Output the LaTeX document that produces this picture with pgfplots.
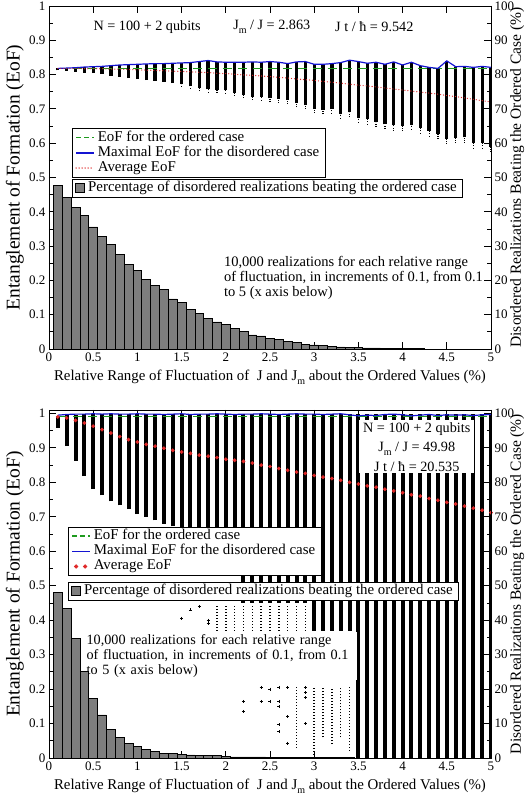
\documentclass[border=0pt]{standalone}
\usepackage{fontspec}
\setmainfont{Liberation Serif}
\usepackage{pgfplots}
\pgfplotsset{compat=1.18}
\definecolor{ordgreen}{HTML}{1E9A1E}
\definecolor{maxblue}{HTML}{1414D2}
\definecolor{avgred}{HTML}{E02828}
\definecolor{barfill}{HTML}{7E7E7E}
\newcommand{\sub}[1]{\raisebox{-0.6ex}{\fontsize{10}{10}\selectfont #1}}
\newcommand{\txt}{\fontsize{14.9}{15}\selectfont}

\pgfplotsset{
  panel/.style={scale only axis, width=442pt, anchor=south west,
    xmin=0, xmax=5, ymin=0,
    tick align=inside, major tick length=7pt, minor tick length=4pt,
    minor y tick num=1,
    every tick/.append style={black, line width=0.8pt},
    axis line style={line width=0.9pt},
    tick label style={font=\fontsize{13}{13}\selectfont},
    /pgf/number format/assume math mode=true},
  legbox/.style={legend cell align=left,
    legend style={draw=black, line width=0.8pt, fill=white, font=\txt,
      anchor=north west, inner xsep=3pt, inner ysep=1.5pt,
      nodes={text height=10.5pt, text depth=3.5pt, inner ysep=0.6pt, inner xsep=3pt}}},
  eof/.style={panel, legbox,
    xtick={0,0.5,1,1.5,2,2.5,3,3.5,4,4.5,5},
    ytick={0,0.1,0.2,0.3,0.4,0.5,0.6,0.7,0.8,0.9,1},
    xtick pos=both, xticklabel pos=lower, ytick pos=left,
    xlabel={Relative Range of Fluctuation of \ J and J\sub{m} about the Ordered Values (\%)},
    xlabel style={font=\txt, at={(axis description cs:0.5,0)}, anchor=center, yshift=-28pt},
    ylabel={Entanglement of Formation (EoF)},
    ylabel style={font=\fontsize{19.5}{20}\selectfont, at={(axis description cs:-0.077,0.5)}, anchor=center}},
  pct/.style={panel, legbox, hide x axis,
    ytick={0,10,20,30,40,50,60,70,80,90,100},
    ytick pos=right, yticklabel pos=right,
    ylabel={Disordered Realizations Beating the Ordered Case (\%)},
    ylabel style={font=\fontsize{15.5}{16}\selectfont, at={(axis description cs:1.059,0.5)}, anchor=center}},
  greenleg/.style={legend image code/.code={\draw[ordgreen, line width=1.4pt, dash pattern=on 5pt off 3pt] (0pt,0pt) -- (18pt,0pt);}},
  blueleg/.style={legend image code/.code={\draw[maxblue, line width=1.4pt] (0pt,0pt) -- (18pt,0pt);}},
  barleg/.style={legend image code/.code={\draw[fill=barfill, draw=black, line width=0.8pt] (4pt,-4.5pt) rectangle (13pt,4.5pt);}}
}

\begin{document}
\begin{tikzpicture}
\path[use as bounding box] (0pt,0pt) rectangle (531pt,798pt);

% ================= top panel =================
\begin{axis}[eof, at={(49pt,449pt)}, height=343pt, ymax=1,
  legend style={at={(rel axis cs:0.052,0.644)}}]
% realizations: each streak from lowest to highest EoF
\addplot[black, line width=3.3pt, unbounded coords=jump, forget plot] coordinates {
(0.1,0.812)(0.1,0.818)(0.1,nan) (0.2,0.811)(0.2,0.819)(0.2,nan)
(0.3,0.809)(0.3,0.820)(0.3,nan) (0.4,0.806)(0.4,0.822)(0.4,nan)
(0.5,0.804)(0.5,0.823)(0.5,nan) (0.6,0.801)(0.6,0.824)(0.6,nan)
(0.7,0.797)(0.7,0.826)(0.7,nan) (0.8,0.794)(0.8,0.828)(0.8,nan)
(0.9,0.790)(0.9,0.829)(0.9,nan) (1.0,0.787)(1.0,0.830)(1.0,nan)
(1.1,0.784)(1.1,0.831)(1.1,nan) (1.2,0.782)(1.2,0.832)(1.2,nan)
(1.3,0.779)(1.3,0.832)(1.3,nan) (1.4,0.775)(1.4,0.833)(1.4,nan)
(1.5,0.772)(1.5,0.834)(1.5,nan) (1.6,0.766)(1.6,0.835)(1.6,nan)
(1.7,0.760)(1.7,0.838)(1.7,nan) (1.8,0.757)(1.8,0.841)(1.8,nan)
(1.9,0.756)(1.9,0.837)(1.9,nan) (2.0,0.754)(2.0,0.836)(2.0,nan)
(2.1,0.746)(2.1,0.836)(2.1,nan) (2.2,0.741)(2.2,0.836)(2.2,nan)
(2.3,0.736)(2.3,0.837)(2.3,nan) (2.4,0.735)(2.4,0.836)(2.4,nan)
(2.5,0.731)(2.5,0.838)(2.5,nan) (2.6,0.729)(2.6,0.836)(2.6,nan)
(2.7,0.727)(2.7,0.832)(2.7,nan) (2.8,0.718)(2.8,0.837)(2.8,nan)
(2.9,0.711)(2.9,0.838)(2.9,nan) (3.0,0.700)(3.0,0.830)(3.0,nan)
(3.1,0.697)(3.1,0.830)(3.1,nan) (3.2,0.699)(3.2,0.832)(3.2,nan)
(3.3,0.686)(3.3,0.835)(3.3,nan) (3.4,0.690)(3.4,0.842)(3.4,nan)
(3.5,0.674)(3.5,0.838)(3.5,nan) (3.6,0.670)(3.6,0.833)(3.6,nan)
(3.7,0.662)(3.7,0.836)(3.7,nan) (3.8,0.655)(3.8,0.830)(3.8,nan)
(3.9,0.652)(3.9,0.837)(3.9,nan) (4.0,0.651)(4.0,0.828)(4.0,nan)
(4.1,0.654)(4.1,0.836)(4.1,nan) (4.2,0.645)(4.2,0.826)(4.2,nan)
(4.3,0.636)(4.3,0.821)(4.3,nan) (4.4,0.628)(4.4,0.818)(4.4,nan)
(4.5,0.613)(4.5,0.840)(4.5,nan) (4.6,0.615)(4.6,0.823)(4.6,nan)
(4.7,0.617)(4.7,0.824)(4.7,nan) (4.8,0.600)(4.8,0.821)(4.8,nan)
(4.9,0.602)(4.9,0.824)(4.9,nan) (5.0,0.590)(5.0,0.821)
};
% sparse tails below the streaks
\addplot[black, line width=1.2pt, dash pattern=on 0.8pt off 1.6pt, unbounded coords=jump, forget plot] coordinates {
(1.5,0.765)(1.5,0.772)(1.5,nan) (1.6,0.760)(1.6,0.766)(1.6,nan) (1.7,0.752)(1.7,0.760)(1.7,nan)
(1.8,0.748)(1.8,0.757)(1.8,nan) (1.9,0.748)(1.9,0.756)(1.9,nan) (2.0,0.745)(2.0,0.754)(2.0,nan)
(2.1,0.738)(2.1,0.746)(2.1,nan) (2.2,0.732)(2.2,0.741)(2.2,nan) (2.3,0.726)(2.3,0.736)(2.3,nan)
(2.4,0.725)(2.4,0.735)(2.4,nan) (2.5,0.720)(2.5,0.731)(2.5,nan) (2.6,0.718)(2.6,0.729)(2.6,nan)
(2.7,0.715)(2.7,0.727)(2.7,nan) (2.8,0.705)(2.8,0.718)(2.8,nan) (2.9,0.700)(2.9,0.711)(2.9,nan)
(3.0,0.688)(3.0,0.700)(3.0,nan) (3.1,0.685)(3.1,0.697)(3.1,nan) (3.2,0.686)(3.2,0.699)(3.2,nan)
(3.3,0.672)(3.3,0.686)(3.3,nan) (3.4,0.676)(3.4,0.690)(3.4,nan) (3.5,0.660)(3.5,0.674)(3.5,nan)
(3.6,0.655)(3.6,0.670)(3.6,nan) (3.7,0.648)(3.7,0.662)(3.7,nan) (3.8,0.642)(3.8,0.655)(3.8,nan)
(3.9,0.636)(3.9,0.652)(3.9,nan) (4.0,0.635)(4.0,0.651)(4.0,nan) (4.1,0.640)(4.1,0.654)(4.1,nan)
(4.2,0.628)(4.2,0.645)(4.2,nan) (4.3,0.620)(4.3,0.636)(4.3,nan) (4.4,0.612)(4.4,0.628)(4.4,nan)
(4.5,0.598)(4.5,0.613)(4.5,nan) (4.6,0.600)(4.6,0.615)(4.6,nan) (4.7,0.600)(4.7,0.617)(4.7,nan)
(4.8,0.585)(4.8,0.600)(4.8,nan) (4.9,0.585)(4.9,0.602)(4.9,nan) (5.0,0.575)(5.0,0.590)
};
\addplot[ordgreen, line width=1.2pt, dash pattern=on 9pt off 6pt, greenleg] coordinates {(0.1,0.818) (5.0,0.818)};
\addlegendentry{EoF for the ordered case}
\addplot[maxblue, line width=1.2pt, blueleg] coordinates {
(0.1,0.818)(0.2,0.819)(0.3,0.820)(0.4,0.822)(0.5,0.823)(0.6,0.824)(0.7,0.826)(0.8,0.828)(0.9,0.829)(1.0,0.830)
(1.1,0.831)(1.2,0.832)(1.3,0.832)(1.4,0.833)(1.5,0.834)(1.6,0.835)(1.7,0.838)(1.8,0.841)(1.9,0.837)(2.0,0.836)
(2.1,0.836)(2.2,0.836)(2.3,0.837)(2.4,0.836)(2.5,0.838)(2.6,0.836)(2.7,0.832)(2.8,0.837)(2.9,0.838)(3.0,0.830)
(3.1,0.830)(3.2,0.832)(3.3,0.835)(3.4,0.842)(3.5,0.838)(3.6,0.833)(3.7,0.836)(3.8,0.830)(3.9,0.837)(4.0,0.828)
(4.1,0.836)(4.2,0.826)(4.3,0.821)(4.4,0.818)(4.5,0.840)(4.6,0.823)(4.7,0.824)(4.8,0.821)(4.9,0.824)(5.0,0.821)};
\addlegendentry{Maximal EoF for the disordered case}
\addplot[avgred, line width=1.3pt, line cap=round, dash pattern=on 0pt off 3pt,
  legend image code/.code={\draw[avgred, line width=1.5pt, line cap=round, dash pattern=on 0pt off 3pt] (0pt,0pt) -- (18pt,0pt);}] coordinates {
(0.1,0.818)(0.2,0.818)(0.3,0.818)(0.4,0.817)(0.5,0.817)(0.6,0.817)(0.7,0.816)(0.8,0.816)(0.9,0.815)(1.0,0.814)
(1.1,0.813)(1.2,0.812)(1.3,0.811)(1.4,0.810)(1.5,0.809)(1.6,0.808)(1.7,0.807)(1.8,0.806)(1.9,0.804)(2.0,0.803)
(2.1,0.801)(2.2,0.799)(2.3,0.798)(2.4,0.796)(2.5,0.794)(2.6,0.792)(2.7,0.790)(2.8,0.787)(2.9,0.785)(3.0,0.783)
(3.1,0.780)(3.2,0.778)(3.3,0.775)(3.4,0.772)(3.5,0.769)(3.6,0.767)(3.7,0.764)(3.8,0.761)(3.9,0.758)(4.0,0.755)
(4.1,0.752)(4.2,0.749)(4.3,0.746)(4.4,0.743)(4.5,0.739)(4.6,0.736)(4.7,0.732)(4.8,0.728)(4.9,0.724)(5.0,0.720)};
\addlegendentry{Average EoF}
\node[font=\fontsize{14.2}{15}\selectfont] at (axis cs:1.11,0.939) {N = 100 + 2 qubits};
\node[font=\fontsize{14.2}{15}\selectfont] at (axis cs:2.52,0.939) {J\sub{m} / J = 2.863};
\node[font=\fontsize{14.2}{15}\selectfont] at (axis cs:3.68,0.939) {J t / ħ = 9.542};
\node[font=\fontsize{14.5}{15}\selectfont, anchor=west, align=left] at (axis cs:1.94,0.207)
  {10,000 realizations for each relative range\\of fluctuation, in increments of 0.1, from 0.1\\to 5 (x axis below)};
\end{axis}

\begin{axis}[pct, at={(49pt,449pt)}, height=343pt, ymax=100,
  legend style={at={(rel axis cs:0.052,0.496)}}]
\addplot[ybar, bar width=0.1, fill=barfill, draw=black, line width=0.7pt, barleg] coordinates {
(0.1,47.7)(0.2,44.1)(0.3,41.3)(0.4,38.9)(0.5,35.6)(0.6,32.7)(0.7,30.4)(0.8,27.5)(0.9,24.6)(1.0,22.9)
(1.1,20.4)(1.2,18.5)(1.3,17.3)(1.4,14.6)(1.5,13.5)(1.6,11.6)(1.7,10.4)(1.8,8.9)(1.9,7.9)(2.0,7.2)
(2.1,6.1)(2.2,5.1)(2.3,4.1)(2.4,3.8)(2.5,3.0)(2.6,2.7)(2.7,2.1)(2.8,1.8)(2.9,1.4)(3.0,1.2)
(3.1,1.0)(3.2,0.8)(3.3,0.6)(3.4,0.5)(3.5,0.4)(3.6,0.3)(3.7,0.3)(3.8,0.2)(3.9,0.15)(4.0,0.1)
(4.1,0.1)(4.2,0.1)};
\addlegendentry{Percentage of disordered realizations beating the ordered case}
\end{axis}

% ================= bottom panel =================
\begin{axis}[eof, at={(49pt,40pt)}, height=348pt, ymax=1.01,
  legend style={at={(rel axis cs:0.043,0.665)}}]
\addplot[black, line width=4pt, unbounded coords=jump, forget plot] coordinates {
(0.1,0.959)(0.1,0.993)(0.1,nan) (0.2,0.905)(0.2,0.995)(0.2,nan)
(0.3,0.862)(0.3,0.996)(0.3,nan) (0.4,0.818)(0.4,0.997)(0.4,nan)
(0.5,0.780)(0.5,0.997)(0.5,nan) (0.6,0.762)(0.6,0.997)(0.6,nan)
(0.7,0.745)(0.7,0.997)(0.7,nan) (0.8,0.733)(0.8,0.997)(0.8,nan)
(0.9,0.722)(0.9,0.997)(0.9,nan) (1.0,0.708)(1.0,0.997)(1.0,nan)
(1.1,0.700)(1.1,0.997)(1.1,nan) (1.2,0.690)(1.2,0.997)(1.2,nan)
(1.3,0.680)(1.3,0.997)(1.3,nan) (1.4,0.672)(1.4,0.997)(1.4,nan)
(1.5,0.665)(1.5,0.997)(1.5,nan) (1.6,0.660)(1.6,0.997)(1.6,nan)
(1.7,0.655)(1.7,0.997)(1.7,nan) (1.8,0.650)(1.8,0.997)(1.8,nan)
(1.9,0.640)(1.9,0.997)(1.9,nan) (2.0,0.630)(2.0,0.997)(2.0,nan)
(2.1,0.620)(2.1,0.997)(2.1,nan) (2.2,0.450)(2.2,0.997)(2.2,nan)
(2.3,0.450)(2.3,0.997)(2.3,nan) (2.4,0.450)(2.4,0.997)(2.4,nan)
(2.5,0.450)(2.5,0.997)(2.5,nan) (2.6,0.450)(2.6,0.997)(2.6,nan)
(2.7,0.450)(2.7,0.997)(2.7,nan) (2.8,0.450)(2.8,0.997)(2.8,nan)
(2.9,0.450)(2.9,0.997)(2.9,nan) (3.0,0.370)(3.0,0.997)(3.0,nan)
(3.1,0.370)(3.1,0.997)(3.1,nan) (3.2,0.370)(3.2,0.997)(3.2,nan)
(3.3,0.370)(3.3,0.997)(3.3,nan) (3.4,0.370)(3.4,0.997)(3.4,nan)
(3.5,0)(3.5,0.997)(3.5,nan) (3.6,0)(3.6,0.997)(3.6,nan)
(3.7,0)(3.7,0.997)(3.7,nan) (3.8,0)(3.8,0.997)(3.8,nan)
(3.9,0)(3.9,0.997)(3.9,nan) (4.0,0)(4.0,0.997)(4.0,nan)
(4.1,0)(4.1,0.997)(4.1,nan) (4.2,0)(4.2,0.997)(4.2,nan)
(4.3,0)(4.3,0.997)(4.3,nan) (4.4,0)(4.4,0.997)(4.4,nan)
(4.5,0)(4.5,0.997)(4.5,nan) (4.6,0)(4.6,0.997)(4.6,nan)
(4.7,0)(4.7,0.997)(4.7,nan) (4.8,0)(4.8,0.997)(4.8,nan)
(4.9,0)(4.9,0.997)(4.9,nan) (5.0,0)(5.0,0.997)
};
% sparse parts of the realization columns
\addplot[black, line width=1.5pt, dash pattern=on 1pt off 2pt, unbounded coords=jump, forget plot] coordinates {
(1.9,0.37)(1.9,0.445)(1.9,nan) (2.0,0.37)(2.0,0.445)(2.0,nan) (2.1,0.37)(2.1,0.445)(2.1,nan)
(2.2,0.37)(2.2,0.445)(2.2,nan) (2.3,0.37)(2.3,0.445)(2.3,nan) (2.4,0.37)(2.4,0.445)(2.4,nan)
(2.5,0.37)(2.5,0.445)(2.5,nan) (2.6,0.37)(2.6,0.445)(2.6,nan) (2.7,0.37)(2.7,0.445)(2.7,nan)
(2.8,0.37)(2.8,0.445)(2.8,nan) (2.9,0.37)(2.9,0.445)(2.9,nan)
(2.8,0.03)(2.8,0.205)(2.8,nan) (3.0,0.0)(3.0,0.205)(3.0,nan) (3.1,0.06)(3.1,0.205)(3.1,nan)
(3.2,0.04)(3.2,0.205)(3.2,nan) (3.3,0.06)(3.3,0.205)(3.3,nan) (3.4,0.02)(3.4,0.205)
};
\addplot[only marks, mark=+, mark size=1.5pt, black, line width=0.5pt, forget plot] coordinates {
(1.5,0.406)(1.6,0.430)(1.7,0.440)(1.8,0.400)(1.8,0.390)(2.2,0.164)(2.2,0.135)(2.4,0.205)(2.4,0.164)
(2.5,0.164)(2.5,0.200)(2.6,0.205)(2.6,0.164)(2.6,0.150)(2.6,0.097)(2.6,0.077)(2.7,0.205)(2.7,0.120)
(2.7,0.043)(2.9,0.205)(2.9,0.190)(2.9,0.175)(2.9,0.100)};
\addplot[ordgreen, line width=1.2pt, dash pattern=on 9pt off 6pt, greenleg] coordinates {(0.1,0.990) (5.0,0.990)};
\addlegendentry{EoF for the ordered case}
\addplot[maxblue, line width=1.2pt, blueleg] coordinates {
(0.1,0.995)(0.2,0.997)(0.3,0.998)(0.4,0.998)(0.5,0.999)(0.6,0.998)(0.7,0.999)(0.8,0.998)(0.9,0.998)(1.0,0.999)
(1.1,0.998)(1.2,0.998)(1.3,0.997)(1.4,0.998)(1.5,0.999)(1.6,0.997)(1.7,0.998)(1.8,0.998)(1.9,0.999)(2.0,0.998)
(2.1,0.997)(2.2,0.998)(2.3,0.998)(2.4,0.999)(2.5,0.998)(2.6,0.997)(2.7,0.998)(2.8,0.999)(2.9,0.998)(3.0,0.998)
(3.1,0.997)(3.2,0.998)(3.3,0.999)(3.4,0.996)(3.5,0.993)(3.6,0.995)(3.7,0.994)(3.8,0.997)(3.9,0.998)(4.0,0.996)
(4.1,0.993)(4.2,0.995)(4.3,0.997)(4.4,0.994)(4.5,0.996)(4.6,0.995)(4.7,0.996)(4.8,0.994)(4.9,0.996)(5.0,0.997)};
\addlegendentry{Maximal EoF for the disordered case}
\addplot[only marks, mark=*, mark size=1.7pt, avgred, draw=avgred,
  legend image code/.code={\fill[avgred] (4pt,0pt) circle (1.7pt); \fill[avgred] (13pt,0pt) circle (1.7pt);}] coordinates {
(0.1,0.990)(0.2,0.987)(0.3,0.980)(0.4,0.972)(0.5,0.963)(0.6,0.953)(0.7,0.943)(0.8,0.933)(0.9,0.924)(1.0,0.917)
(1.1,0.910)(1.2,0.905)(1.3,0.899)(1.4,0.893)(1.5,0.888)(1.6,0.884)(1.7,0.879)(1.8,0.876)(1.9,0.872)(2.0,0.867)
(2.1,0.864)(2.2,0.861)(2.3,0.856)(2.4,0.850)(2.5,0.846)(2.6,0.840)(2.7,0.835)(2.8,0.830)(2.9,0.826)(3.0,0.820)
(3.1,0.815)(3.2,0.811)(3.3,0.806)(3.4,0.800)(3.5,0.795)(3.6,0.790)(3.7,0.786)(3.8,0.780)(3.9,0.775)(4.0,0.770)
(4.1,0.764)(4.2,0.760)(4.3,0.753)(4.4,0.748)(4.5,0.742)(4.6,0.737)(4.7,0.731)(4.8,0.725)(4.9,0.719)(5.0,0.712)};
\addlegendentry{Average EoF}
\node[font=\fontsize{14.2}{19.5}\selectfont, fill=white, align=center, inner xsep=4pt, inner ysep=2pt]
  at (axis cs:4.16,0.903) {N = 100 + 2 qubits\\J\sub{m} / J = 49.98\\J t / ħ = 20.535};
\node[font=\fontsize{14.2}{15}\selectfont, fill=white, anchor=north west, align=left, text width=268pt, inner xsep=2pt, inner ysep=2.5pt]
  at (axis cs:0.40,0.365)
  {10,000 realizations for each relative range\\of fluctuation, in increments of 0.1, from 0.1\\to 5 (x axis below)};
\end{axis}

\begin{axis}[pct, at={(49pt,40pt)}, height=348pt, ymax=101,
  legend style={at={(rel axis cs:0.043,0.507)}}]
\addplot[ybar, bar width=0.1, fill=barfill, draw=black, line width=0.7pt, barleg] coordinates {
(0.1,48.1)(0.2,43.5)(0.3,34.8)(0.4,25.2)(0.5,17.3)(0.6,12.5)(0.7,8.3)(0.8,6.0)(0.9,4.3)(1.0,3.4)
(1.1,2.6)(1.2,1.8)(1.3,1.4)(1.4,1.4)(1.5,1.0)(1.6,0.9)(1.7,0.8)(1.8,0.7)(1.9,0.7)(2.0,0.5)
(2.1,0.3)(2.2,0.3)(2.3,0.3)(2.4,0.3)(2.5,0.2)(2.6,0.2)(2.7,0.2)(2.8,0.1)(2.9,0.1)(3.0,0.1)
(3.1,0.1)(3.2,0.1)(3.3,0.1)(3.4,0.1)};
\addlegendentry{Percentage of disordered realizations beating the ordered case}
\end{axis}
\end{tikzpicture}
\end{document}
